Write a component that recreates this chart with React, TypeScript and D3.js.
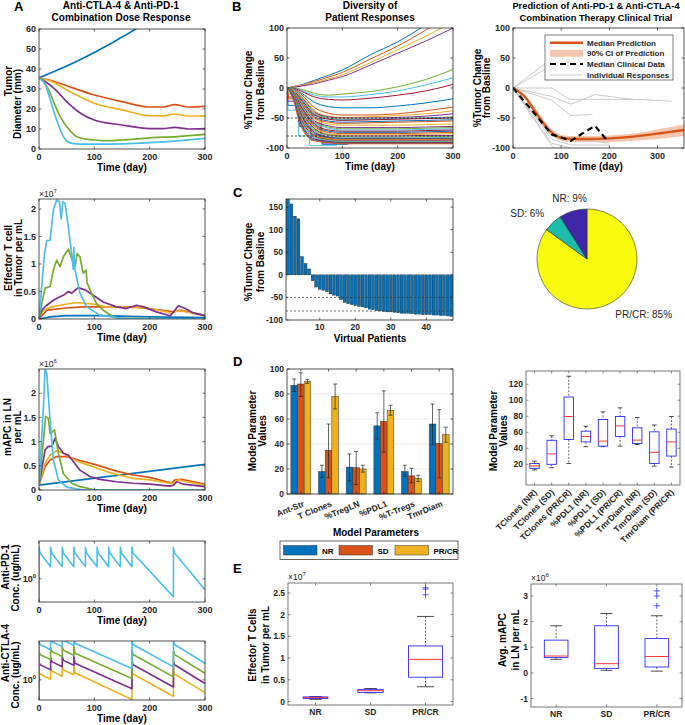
import React from "react";
import * as d3 from "d3";

const FONT = "'Liberation Sans', Arial, Helvetica, sans-serif";
const BLUE = "#0072BD";
const ORANGE = "#D95319";
const YELLOW = "#EDB120";
const PURPLE = "#7E2F8E";
const GREEN = "#77AC30";
const CYAN = "#4DBEEE";
const RED = "#A2142F";
const CYCLE = [BLUE, ORANGE, YELLOW, PURPLE, GREEN, CYAN, RED];
const AXC = "#262626";

// ---------- A: dose response (time, value) ----------
const DIAM_BLUE = [[0, 35.5], [25, 38.5], [50, 41.5], [75, 44.8], [100, 48.3], [125, 52], [150, 56], [175, 60], [200, 64.5]];
const DIAM_ORANGE = [[0, 35.5], [25, 34], [50, 31.6], [100, 27], [150, 23.7], [200, 21], [225, 21], [245, 22.2], [270, 21], [300, 21.3]];
const DIAM_YELLOW = [[0, 35.5], [25, 33.5], [50, 29.6], [75, 26], [100, 22.9], [150, 19.6], [200, 16.7], [225, 16.6], [245, 17.5], [270, 16.5], [300, 16.6]];
const DIAM_PURPLE = [[0, 35.5], [15, 33], [30, 29.6], [50, 23.7], [75, 17.9], [100, 14.5], [150, 12], [200, 10.2], [225, 10.2], [245, 10.8], [270, 10], [300, 10.2]];
const DIAM_GREEN = [[0, 35.5], [10, 33], [20, 27.9], [30, 21.2], [40, 15.4], [50, 11.2], [70, 5.9], [100, 4.5], [120, 4.2], [150, 4.5], [200, 5.6], [250, 6.2], [300, 7.3]];
const DIAM_CYAN = [[0, 35.5], [10, 33], [20, 25], [30, 16], [40, 8.5], [50, 4], [60, 2.8], [75, 2.4], [100, 2.4], [150, 2.6], [200, 3.2], [250, 4.1], [300, 5.3]];

const TEFF_BLUE = [[0, 0], [20, 0.04], [50, 0.06], [110, 0.06], [200, 0.04], [300, 0.025]];
const TEFF_ORANGE = [[0, 0], [14, 0.16], [50, 0.2], [80, 0.22], [170, 0.22], [231, 0.15], [243, 0.13], [255, 0.16], [300, 0.06]];
const TEFF_YELLOW = [[0, 0], [8, 0.16], [20, 0.21], [38, 0.25], [68, 0.3], [98, 0.27], [122, 0.22], [170, 0.21], [195, 0.2], [231, 0.13], [240, 0.09], [243, 0.13], [255, 0.15], [280, 0.1], [300, 0.07]];
const TEFF_PURPLE = [[0, 0], [5, 0.16], [14, 0.25], [26, 0.34], [35, 0.39], [44, 0.43], [53, 0.5], [59, 0.47], [71, 0.57], [83, 0.53], [98, 0.43], [116, 0.31], [140, 0.22], [158, 0.19], [176, 0.25], [189, 0.22], [212, 0.13], [237, 0.06], [243, 0.13], [252, 0.24], [264, 0.19], [279, 0.11], [300, 0.06]];
const TEFF_GREEN = [[0, 0], [5, 0.28], [11, 0.56], [20, 0.59], [26, 0.89], [32, 1.07], [38, 0.95], [44, 1.13], [53, 1.27], [59, 1.1], [65, 0.95], [69, 1.19], [74, 1.13], [80, 0.83], [85, 0.89], [87, 0.65], [95, 0.47], [104, 0.28], [116, 0.16], [134, 0.04], [146, 0.01], [300, 0]];
const TEFF_CYAN = [[0, 0], [5, 0.6], [10, 1.19], [14, 1.42], [20, 1.43], [26, 1.98], [32, 2.16], [37, 2.13], [40, 1.82], [43, 2.13], [47, 2.1], [53, 1.67], [59, 1.19], [62, 0.9], [63, 1.3], [64, 0.95], [74, 0.47], [86, 0.22], [110, 0.07], [150, 0.01], [300, 0]];

const MAPC_BLUE = [[0, 0.1], [300, 0.53]];
const MAPC_ORANGE = [[0, 0.1], [11, 0.48], [20, 0.62], [32, 0.69], [50, 0.69], [74, 0.61], [104, 0.52], [140, 0.39], [170, 0.31], [200, 0.26], [231, 0.17], [240, 0.15], [246, 0.21], [258, 0.22], [279, 0.17], [300, 0.12]];
const MAPC_YELLOW = [[0, 0.1], [11, 0.55], [20, 0.72], [32, 0.81], [44, 0.76], [62, 0.63], [80, 0.55], [98, 0.48], [128, 0.36], [170, 0.24], [200, 0.21], [237, 0.14], [243, 0.14], [252, 0.21], [267, 0.17], [300, 0.1]];
const MAPC_PURPLE = [[0, 0.1], [11, 0.83], [17, 0.9], [23, 0.9], [29, 1.07], [35, 0.9], [44, 0.76], [53, 0.72], [62, 0.59], [74, 0.41], [92, 0.28], [110, 0.22], [140, 0.17], [170, 0.14], [200, 0.12], [237, 0.08], [243, 0.1], [249, 0.17], [261, 0.12], [300, 0.07]];
const MAPC_GREEN = [[0, 0.1], [8, 1.03], [12, 1.52], [17, 1.48], [20, 1.17], [25, 1.21], [28, 1.24], [35, 0.76], [44, 0.34], [59, 0.14], [74, 0.07], [98, 0.01], [120, 0], [300, 0]];
const MAPC_CYAN = [[0, 0.1], [8, 1.72], [11, 2.5], [14, 2.41], [20, 1.45], [26, 0.62], [35, 0.21], [50, 0.06], [80, 0], [300, 0]];

const PD1_CONC = [[0, 0.1], [0, 3.4], [2, 2.7], [21, 1.6], [21, 3.4], [23, 2.7], [42, 1.6], [42, 3.4], [44, 2.7], [63, 1.6], [63, 3.4], [65, 2.7], [84, 1.6], [84, 3.4], [86, 2.7], [105, 1.6], [105, 3.4], [107, 2.7], [126, 1.6], [126, 3.4], [128, 2.7], [147, 1.6], [147, 3.4], [149, 2.7], [168, 1.6], [168, 3.4], [170, 2.7], [243, 0.5], [243, 3.4], [245, 2.7], [300, 0.66]];

const CTLA4_CYAN = [[0, 0.1], [0, 4.4], [2, 3.9], [21, 3.2], [21, 5.0], [23, 4.4], [42, 3.6], [42, 5.3], [44, 4.6], [63, 3.8], [63, 5.4], [65, 4.1], [168, 1.55], [168, 4.5], [170, 3.9], [243, 1.65], [243, 4.5], [245, 3.9], [300, 1.9]];
const CTLA4_GREEN = [[0, 0.1], [0, 3.0], [2, 2.65], [21, 2.18], [21, 3.4], [23, 3.0], [42, 2.45], [42, 3.6], [44, 3.13], [63, 2.58], [63, 3.67], [65, 2.79], [168, 1.05], [168, 3.06], [170, 2.65], [243, 1.12], [243, 3.06], [245, 2.65], [300, 1.29]];
const CTLA4_PURPLE = [[0, 0.1], [0, 2.02], [2, 1.79], [21, 1.47], [21, 2.3], [23, 2.02], [42, 1.66], [42, 2.44], [44, 2.12], [63, 1.75], [63, 2.48], [65, 1.89], [168, 0.71], [168, 2.07], [170, 1.79], [243, 0.76], [243, 2.07], [245, 1.79], [300, 0.87]];
const CTLA4_YELLOW = [[0, 0.1], [0, 1.41], [2, 1.25], [21, 1.02], [21, 1.6], [23, 1.41], [42, 1.15], [42, 1.7], [44, 1.47], [63, 1.22], [63, 1.73], [65, 1.31], [168, 0.47], [168, 1.44], [170, 1.25], [243, 0.53], [243, 1.44], [245, 1.25], [300, 0.61]];

// ---------- B: virtual patients (% change at B_TIMES) ----------
const B_TIMES = [0, 10, 25, 50, 75, 100, 150, 200, 250, 300];
const B_PATIENTS = [
  [0, 2, 5, 13, 21, 30, 55, 77, 105, 140],
  [0, 2, 4, 11, 18, 26, 48, 70, 96, 125],
  [0, 2, 4, 9, 15, 22, 42, 64, 86, 110],
  [0, 1, 3, 7, 13, 19, 38, 58, 78, 100],
  [0, 1, -2, -9, -12, -10, -6, 2, 14, 31],
  [0, 0, -4, -12, -15, -15, -11, -5, 5, 17],
  [0, 0, -5, -15, -19, -20, -17, -12, -5, 6],
  [0, -1, -8, -24, -31, -33, -33, -30, -25, -18],
  [0, -1, -10, -33, -42, -45, -45, -43, -38, -32],
  [0, -2, -12, -38, -47, -49, -48, -46, -43, -38],
  [0, -2, -14, -40, -48, -50, -50, -49, -47, -43],
  [0, -2, -15, -42, -50, -52, -52, -51, -50, -48],
  [0, -2, -16, -44, -51, -53, -52, -51, -50, -49],
  [0, -3, -18, -45, -52, -54, -53, -52, -51, -50],
  [0, -3, -20, -48, -55, -57, -56, -55, -54, -53],
  [0, -3, -22, -50, -57, -59, -58, -57, -56, -55],
  [0, -3, -24, -52, -60, -62, -62, -62, -61, -60],
  [0, -4, -25, -55, -63, -66, -66, -66, -65, -64],
  [0, -4, -27, -57, -65, -68, -68, -68, -67, -66],
  [0, -4, -28, -58, -67, -70, -70, -70, -69, -68],
  [0, -5, -30, -60, -70, -72, -72, -72, -71, -70],
  [0, -5, -32, -62, -72, -74, -74, -74, -73, -72],
  [0, -5, -33, -64, -74, -76, -76, -76, -75, -74],
  [0, -6, -35, -66, -76, -78, -78, -78, -77, -76],
  [0, -6, -36, -68, -78, -80, -80, -80, -79, -79],
  [0, -6, -38, -70, -79, -81, -82, -82, -81, -81],
  [0, -7, -40, -72, -81, -83, -83, -83, -83, -82],
  [0, -7, -42, -74, -82, -84, -84, -84, -84, -84],
  [0, -8, -44, -76, -83, -85, -85, -85, -85, -85],
  [0, -8, -46, -78, -84, -86, -86, -86, -86, -86],
  [0, -9, -48, -79, -85, -87, -87, -87, -87, -87],
  [0, -9, -50, -80, -86, -88, -88, -88, -88, -88],
  [0, -10, -52, -82, -87, -89, -89, -89, -89, -89],
  [0, -10, -54, -83, -88, -90, -90, -90, -90, -90],
  [0, -12, -57, -85, -89, -91, -91, -91, -91, -91],
  [0, -14, -60, -87, -90, -92, -92, -92, -92, -92],
  [0, -16, -64, -88, -91, -93, -93, -93, -93, -93],
];
const B_STEPS = [
  [[0, 0], [2, -37], [20, -37], [21, -80], [40, -80], [41, -96], [90, -96]],
  [[0, 0], [2, -29], [21, -29], [22, -64], [42, -64], [43, -87], [63, -87], [64, -94], [110, -94]],
  [[0, 0], [2, -22], [20, -22], [21, -55], [43, -55], [44, -78], [62, -78], [63, -92], [80, -92]],
  [[0, 0], [3, -15], [21, -15], [22, -45], [62, -45], [63, -84], [80, -84], [81, -92], [300, -92]],
  [[0, 0], [3, -10], [22, -10], [23, -40], [44, -40], [45, -70], [62, -70], [63, -90], [82, -90]],
  [[0, 0], [3, -18], [22, -18], [23, -58], [60, -58], [61, -88], [85, -88]],
];
const STEP_COLORS = [CYAN, BLUE, PURPLE, RED, GREEN, ORANGE];

// ---------- B right: trial prediction ----------
const PRED_T = [0, 25, 50, 75, 100, 125, 150, 200, 250, 300, 355];
const PRED_MED = [0, -15, -44, -70, -83, -85, -85, -84, -81, -76, -70];
const PRED_LO = [0, -18, -50, -76, -88, -90, -90, -90, -88, -85, -80];
const PRED_HI = [0, -12, -38, -64, -78, -80, -80, -79, -76, -69, -61];
const CLIN_MEDIAN = [[0, 0], [40, -38], [80, -77], [120, -88], [170, -63], [198, -90]];
const INDIVIDUAL = [
  [[0, 0], [82, 50]],
  [[0, 0], [82, 38]],
  [[0, 0], [80, 0], [118, -19], [256, -19], [330, -22]],
  [[0, 0], [80, -14], [120, -27], [170, -11], [250, -19]],
  [[0, 0], [80, -20], [120, -46], [165, -44]],
  [[0, 0], [80, -85], [120, -95], [200, -95]],
  [[0, 0], [80, -92], [120, -100]],
  [[0, 0], [80, -80], [200, -92]],
  [[0, 0], [82, -98], [95, -105]],
];

// ---------- C: waterfall ----------
const WATERFALL = [175, 157, 130, 124, 40, 25, 13, -13, -27, -32, -34, -37, -42, -45, -47, -55, -61, -64, -66, -68, -70, -71, -73, -76, -77, -79, -80, -81, -82, -82, -83, -84, -85, -85, -85, -86, -87, -87, -88, -88, -88, -89, -89, -90, -90, -91, -92];

// ---------- pie ----------
const PIE_LABELS = ["PR/CR: 85%", "SD: 6%", "NR: 9%"];
const PIE_VALUES = [85, 6, 9];
const PIE_COLORS = ["#F9FB0E", "#1CBCAD", "#3E26A8"];

// ---------- D: parameters ----------
const PARAMS = ["Ant-Str", "T Clones", "%TregLN", "%PDL1", "%T-Tregs", "TmrDiam"];
const GROUPS = ["NR", "SD", "PR/CR"];
const GROUP_COLORS = [BLUE, ORANGE, YELLOW];
const NR_MEAN = [87, 18, 21.5, 54.5, 18, 56];
const NR_LO = [82, 13, 10.5, 44, 14, 39.5];
const NR_HI = [92, 23, 32, 65, 23, 72];
const SD_MEAN = [88, 35, 21, 58, 14.5, 40.5];
const SD_LO = [78, 13, 7.5, 33.5, 9, 13];
const SD_HI = [97, 56, 34, 82.5, 20.5, 67.5];
const PR_MEAN = [90, 78, 20, 67, 12.5, 47.5];
const PR_LO = [88.5, 68, 17.5, 63, 10, 41.5];
const PR_HI = [91.5, 88, 23, 71, 15, 53.5];

const BOX_LABELS = ["TClones (NR)", "TClones (SD)", "TClones (PR/CR)", "%PDL1 (NR)", "%PDL1 (SD)", "%PDL1 (PR/CR)", "TmrDiam (NR)", "TmrDiam (SD)", "TmrDiam (PR/CR)"];
// [lower whisker, q1, median, q3, upper whisker]
const BOX_STATS = [
  [13, 15, 18, 21, 24],
  [15.8, 20, 33, 50, 55.6],
  [21, 51, 79.7, 104, 130],
  [42, 48, 54.8, 61.4, 67.6],
  [42, 42.7, 49, 76, 85.5],
  [42.7, 54.8, 68, 79.7, 90.5],
  [44.8, 46, 50.2, 65.6, 78.4],
  [17.8, 21, 35, 60.6, 69],
  [16.6, 30.3, 48, 64, 79.7],
];

// ---------- E ----------
const E_CATS = ["NR", "SD", "PR/CR"];
const TEFF_BOX = [
  [0.05, 0.07, 0.09, 0.107, 0.115],
  [0.2, 0.21, 0.25, 0.28, 0.3],
  [0.34, 0.56, 0.97, 1.28, 1.96],
];
const TEFF_OUTLIERS = [2.62, 2.59, 2.46];
const MAPC_BOX = [
  [0.53, 0.6, 0.66, 1.28, 1.84],
  [0.1, 0.17, 0.36, 1.84, 2.32],
  [0.07, 0.23, 0.64, 1.34, 2.23],
];
const MAPC_OUTLIERS = [3.2, 3.0, 2.62];

// ================= helpers =================
function Frame({ xs, ys, xTicks = [], yTicks = [], xFmt = (d: any) => String(d), yFmt = (d: any) => String(d), fs = 9, stroke = AXC, showX = true }: any) {
  const [L, R] = xs.range();
  const [B, T] = ys.range();
  const tl = 2.5;
  return (
    <g fontFamily={FONT} fontWeight="bold" fontSize={fs} fill={AXC}>
      {yTicks.map((t: number, i: number) => {
        const y = ys(t);
        return (
          <g key={"y" + i}>
            <line x1={L} x2={L + tl} y1={y} y2={y} stroke={stroke} strokeWidth={0.7} />
            <line x1={R} x2={R - tl} y1={y} y2={y} stroke={stroke} strokeWidth={0.7} />
            <text x={L - 3} y={y + fs * 0.35} textAnchor="end">{yFmt(t)}</text>
          </g>
        );
      })}
      {xTicks.map((t: number, i: number) => {
        const x = xs(t);
        return (
          <g key={"x" + i}>
            <line x1={x} x2={x} y1={B} y2={B - tl} stroke={stroke} strokeWidth={0.7} />
            <line x1={x} x2={x} y1={T} y2={T + tl} stroke={stroke} strokeWidth={0.7} />
            {showX && <text x={x} y={B + fs + 1.5} textAnchor="middle">{xFmt(t)}</text>}
          </g>
        );
      })}
      <rect x={L} y={T} width={R - L} height={B - T} fill="none" stroke={stroke} strokeWidth={0.8} />
    </g>
  );
}

function YLabel({ lines, xs, cys, fs = 10 }: any) {
  return (
    <g fontFamily={FONT} fontWeight="bold" fontSize={fs} fill="#000">
      {lines.map((s: string, i: number) => (
        <text key={i} transform={`translate(${xs[i] + fs * 0.36},${cys[i]}) rotate(-90)`} textAnchor="middle">{s}</text>
      ))}
    </g>
  );
}

function Label({ x, y, text, fs = 10, weight = "bold", anchor = "middle" }: any) {
  return (
    <text x={x} y={y} fontFamily={FONT} fontWeight={weight} fontSize={fs} textAnchor={anchor} fill="#000">{text}</text>
  );
}

function Exponent({ x, y, p }: any) {
  return (
    <text x={x} y={y} fontFamily={FONT} fontSize={8.5} fill={AXC}>
      ×10<tspan dy={-4} fontSize={6}>{p}</tspan>
    </text>
  );
}

function Clip({ id, xs, ys }: any) {
  const [L, R] = xs.range();
  const [B, T] = ys.range();
  return (
    <clipPath id={id}>
      <rect x={L} y={T} width={R - L} height={B - T} />
    </clipPath>
  );
}

const A_X = [39, 205];
const A_COLORS = [BLUE, ORANGE, YELLOW, PURPLE, GREEN, CYAN];

function TimePanel({ id, top, bottom, yMax, yTicks, yFmt, series, colors, smooth, exponent }: any) {
  const xs = d3.scaleLinear().domain([0, 300]).range(A_X);
  const ys = d3.scaleLinear().domain([0, yMax]).range([bottom, top]);
  const line = d3.line<number[]>().x((d) => xs(d[0])).y((d) => ys(d[1])).curve(smooth ? d3.curveMonotoneX : d3.curveLinear);
  return (
    <g>
      <defs><Clip id={id} xs={xs} ys={ys} /></defs>
      <g clipPath={`url(#${id})`}>
        {series.map((s: number[][], i: number) => (
          <path key={i} d={line(s) || ""} fill="none" stroke={colors[i]} strokeWidth={1.7} strokeLinejoin="round" />
        ))}
      </g>
      <Frame xs={xs} ys={ys} xTicks={[0, 100, 200, 300]} yTicks={yTicks} yFmt={yFmt} />
      {exponent && <Exponent x={A_X[0]} y={top - 2} p={exponent} />}
      <Label x={122} y={bottom + 22} text="Time (day)" />
    </g>
  );
}

function LogPanel({ id, top, bottom, domain, series, colors }: any) {
  const xs = d3.scaleLinear().domain([0, 300]).range(A_X);
  const ys = d3.scaleLog().domain(domain).range([bottom, top]);
  const line = d3.line<number[]>().x((d) => xs(d[0])).y((d) => ys(d[1]));
  return (
    <g>
      <defs><Clip id={id} xs={xs} ys={ys} /></defs>
      <g clipPath={`url(#${id})`}>
        {series.map((s: number[][], i: number) => (
          <path key={i} d={line(s) || ""} fill="none" stroke={colors[i]} strokeWidth={1.6} strokeLinejoin="round" />
        ))}
      </g>
      <Frame
        xs={xs}
        ys={ys}
        xTicks={[0, 100, 200, 300]}
        yTicks={[1]}
        yFmt={() => (
          <>
            10<tspan dy={-4} fontSize={6}>0</tspan>
          </>
        )}
      />
      <Label x={122} y={bottom + 22} text="Time (day)" />
    </g>
  );
}

function PanelA() {
  return (
    <g>
      <Label x={14} y={11} text="A" fs={13} anchor="start" />
      <Label x={121} y={9} text="Anti-CTLA-4 & Anti-PD-1" />
      <Label x={121} y={20.5} text="Combination Dose Response" />
      <TimePanel id="a1" top={29} bottom={149} yMax={60} yTicks={[0, 10, 20, 30, 40, 50, 60]} smooth
        series={[DIAM_BLUE, DIAM_ORANGE, DIAM_YELLOW, DIAM_PURPLE, DIAM_GREEN, DIAM_CYAN]} colors={A_COLORS} />
      <YLabel lines={["Tumor", "Diameter (mm)"]} xs={[8, 17.5]} cys={[81, 104]} />

      <TimePanel id="a2" top={199} bottom={319} yMax={2.18} yTicks={[0, 0.5, 1, 1.5, 2]} exponent="7"
        series={[TEFF_BLUE, TEFF_ORANGE, TEFF_YELLOW, TEFF_PURPLE, TEFF_GREEN, TEFF_CYAN]} colors={A_COLORS} />
      <YLabel lines={["Effector T cell", "in Tumor per mL"]} xs={[8.5, 18.5]} cys={[258, 258]} />

      <TimePanel id="a3" top={369} bottom={490} yMax={2.5} yTicks={[0, 0.5, 1, 1.5, 2]} exponent="6"
        series={[MAPC_BLUE, MAPC_ORANGE, MAPC_YELLOW, MAPC_PURPLE, MAPC_GREEN, MAPC_CYAN]} colors={A_COLORS} />
      <YLabel lines={["mAPC in LN", "per mL"]} xs={[7, 17]} cys={[427, 427]} />

      <LogPanel id="a4" top={541} bottom={602} domain={[0.41, 4.3]} series={[PD1_CONC]} colors={[CYAN]} />
      <YLabel lines={["Anti-PD-1", "Conc. (ug/mL)"]} xs={[5.5, 15.5]} cys={[567, 578]} />

      <LogPanel id="a5" top={641} bottom={700} domain={[0.46, 4.47]}
        series={[CTLA4_YELLOW, CTLA4_PURPLE, CTLA4_GREEN, CTLA4_CYAN]} colors={[YELLOW, PURPLE, GREEN, CYAN]} />
      <YLabel lines={["Anti-CTLA-4", "Conc. (ug/mL)"]} xs={[5.5, 15.5]} cys={[653, 675]} />
    </g>
  );
}

function PanelB1() {
  const xs = d3.scaleLinear().domain([0, 300]).range([287, 453]);
  const ys = d3.scaleLinear().domain([-100, 100]).range([148, 28]);
  const smooth = d3.line<number[]>().x((d) => xs(d[0])).y((d) => ys(d[1])).curve(d3.curveMonotoneX);
  const step = d3.line<number[]>().x((d) => xs(d[0])).y((d) => ys(d[1]));
  const [L, R] = xs.range();
  return (
    <g>
      <Label x={232} y={11} text="B" fs={13} anchor="start" />
      <Label x={370} y={9} text="Diversity of" />
      <Label x={370} y={20.5} text="Patient Responses" />
      <defs><Clip id="b1" xs={xs} ys={ys} /></defs>
      <g clipPath="url(#b1)">
        {B_STEPS.map((s, i) => (
          <path key={"s" + i} d={step(s) || ""} fill="none" stroke={STEP_COLORS[i]} strokeWidth={0.9} />
        ))}
        {B_PATIENTS.map((vals, i) => (
          <path key={i} d={smooth(vals.map((v, j) => [B_TIMES[j], v])) || ""} fill="none" stroke={CYCLE[i % 7]} strokeWidth={1} />
        ))}
        {[-50, -80].map((v) => (
          <line key={v} x1={L} x2={R} y1={ys(v)} y2={ys(v)} stroke="#000" strokeWidth={0.7} strokeDasharray="2,2" />
        ))}
      </g>
      <Frame xs={xs} ys={ys} xTicks={[0, 100, 200, 300]} yTicks={[-100, -50, 0, 50, 100]} />
      <YLabel lines={["%Tumor Change", "from Basline"]} xs={[248.5, 260]} cys={[90, 90]} />
      <Label x={370} y={170} text="Time (day)" />
    </g>
  );
}

function PanelB2() {
  const xs = d3.scaleLinear().domain([0, 355]).range([513, 684]);
  const ys = d3.scaleLinear().domain([-100, 100]).range([148, 28]);
  const line = d3.line<number[]>().x((d) => xs(d[0])).y((d) => ys(d[1]));
  const medLine = d3.line<number>().x((_, i) => xs(PRED_T[i])).y((d) => ys(d)).curve(d3.curveMonotoneX);
  const band = d3.area<number>().x((_, i) => xs(PRED_T[i])).y0((_, i) => ys(PRED_LO[i])).y1((_, i) => ys(PRED_HI[i])).curve(d3.curveMonotoneX);
  const lx = 550;
  const legendRows = [42.7, 53.3, 64, 75];
  return (
    <g>
      <Label x={596} y={9} fs={9.3} text="Prediction of Anti-PD-1 & Anti-CTLA-4" />
      <Label x={596} y={20.5} fs={9.3} text="Combination Therapy Clinical Trial" />
      <defs><Clip id="b2" xs={xs} ys={ys} /></defs>
      <g clipPath="url(#b2)">
        <path d={band(PRED_MED) || ""} fill="#F4C6AE" />
        {INDIVIDUAL.map((s, i) => (
          <path key={i} d={line(s) || ""} fill="none" stroke="#BDBDBD" strokeWidth={0.8} />
        ))}
        <path d={medLine(PRED_MED) || ""} fill="none" stroke={ORANGE} strokeWidth={2.4} />
        <path d={line(CLIN_MEDIAN) || ""} fill="none" stroke="#000" strokeWidth={2.2} strokeDasharray="6,4" />
      </g>
      <Frame xs={xs} ys={ys} xTicks={[0, 100, 200, 300]} yTicks={[-100, -50, 0, 50, 100]} />
      <g>
        <rect x={545} y={35} width={128} height={45} fill="#fff" stroke="#262626" strokeWidth={0.6} />
        <line x1={lx} x2={lx + 33} y1={legendRows[0]} y2={legendRows[0]} stroke={ORANGE} strokeWidth={2.4} />
        <rect x={lx} y={legendRows[1] - 3.5} width={33} height={7} fill="#F4C6AE" />
        <line x1={lx} x2={lx + 33} y1={legendRows[2]} y2={legendRows[2]} stroke="#000" strokeWidth={2.2} strokeDasharray="6,4" />
        <line x1={lx} x2={lx + 33} y1={legendRows[3]} y2={legendRows[3]} stroke="#BDBDBD" strokeWidth={0.8} />
        {["Median Prediction", "90% CI of Prediction", "Median Clinical Data", "Individual Responses"].map((s, i) => (
          <text key={s} x={587} y={legendRows[i] + 3} fontFamily={FONT} fontWeight="bold" fontSize={8} fill="#262626">{s}</text>
        ))}
      </g>
      <YLabel lines={["%Tumor Change", "from Basline"]} xs={[477, 486.5]} cys={[88, 88]} />
      <Label x={598} y={170} text="Time (day)" />
    </g>
  );
}

function PanelC() {
  const xs = d3.scaleLinear().domain([0.5, 47.5]).range([286, 453]);
  const ys = d3.scaleLinear().domain([-100, 168]).range([320, 199]);
  const bw = (xs(1) - xs(0)) * 0.8;
  const [L, R] = xs.range();
  return (
    <g>
      <Label x={233} y={197} text="C" fs={13} anchor="start" />
      <defs><Clip id="c" xs={xs} ys={ys} /></defs>
      <g clipPath="url(#c)">
        {WATERFALL.map((v, i) => (
          <rect key={i} x={xs(i + 1) - bw / 2} y={ys(Math.max(0, v))} width={bw} height={Math.abs(ys(v) - ys(0))}
            fill={BLUE} stroke="#1a1a1a" strokeWidth={0.4} />
        ))}
        {[-50, -80].map((v) => (
          <line key={v} x1={L} x2={R} y1={ys(v)} y2={ys(v)} stroke="#333" strokeWidth={0.7} strokeDasharray="2,2" />
        ))}
      </g>
      <Frame xs={xs} ys={ys} xTicks={[10, 20, 30, 40]} yTicks={[-100, -50, 0, 50, 100, 150]} fs={8.5} />
      <YLabel lines={["%Tumor Change", "from Basline"]} xs={[248.5, 260]} cys={[262, 262]} />
      <Label x={370} y={342} text="Virtual Patients" />
    </g>
  );
}

function PanelPie() {
  const cx = 587, cy = 259, r = 50;
  const arcs = d3.pie<number>().sort(null)(PIE_VALUES);
  const arc = d3.arc<any>().innerRadius(0).outerRadius(r);
  const lab = d3.arc<any>().innerRadius(r * 1.25).outerRadius(r * 1.25);
  return (
    <g transform={`translate(${cx},${cy})`}>
      {arcs.map((a, i) => (
        <path key={i} d={arc(a) || ""} fill={PIE_COLORS[i]} stroke="#333" strokeWidth={0.6} />
      ))}
      {arcs.map((a, i) => {
        const [x, y] = lab.centroid(a);
        const s = Math.sin((a.startAngle + a.endAngle) / 2);
        const anchor = Math.abs(s) < 0.35 ? "middle" : s < 0 ? "end" : "start";
        return (
          <text key={"t" + i} x={x} y={y + 3.5} textAnchor={anchor} fontFamily={FONT} fontSize={10} fill="#262626">{PIE_LABELS[i]}</text>
        );
      })}
    </g>
  );
}

function PanelDBars() {
  const xs = d3.scaleLinear().domain([0.5, 6.5]).range([287, 453]);
  const ys = d3.scaleLinear().domain([0, 100]).range([494, 369]);
  const unit = xs(1) - xs(0);
  const bw = unit * 0.24;
  const means = [NR_MEAN, SD_MEAN, PR_MEAN];
  const los = [NR_LO, SD_LO, PR_LO];
  const his = [NR_HI, SD_HI, PR_HI];
  const [L, R] = xs.range();
  return (
    <g>
      <Label x={233} y={366} text="D" fs={13} anchor="start" />
      {[20, 40, 60, 80].map((v) => (
        <line key={v} x1={L} x2={R} y1={ys(v)} y2={ys(v)} stroke="#E3E3E3" strokeWidth={0.7} />
      ))}
      {PARAMS.map((p, i) =>
        GROUPS.map((g, k) => {
          const cx = xs(i + 1) + (k - 1) * bw;
          const v = means[k][i];
          return (
            <g key={p + g}>
              <rect x={cx - bw / 2} y={ys(v)} width={bw} height={ys(0) - ys(v)} fill={GROUP_COLORS[k]} stroke="#333" strokeWidth={0.5} />
              <line x1={cx} x2={cx} y1={ys(los[k][i])} y2={ys(his[k][i])} stroke="#222" strokeWidth={0.7} />
              <line x1={cx - 2} x2={cx + 2} y1={ys(los[k][i])} y2={ys(los[k][i])} stroke="#222" strokeWidth={0.7} />
              <line x1={cx - 2} x2={cx + 2} y1={ys(his[k][i])} y2={ys(his[k][i])} stroke="#222" strokeWidth={0.7} />
            </g>
          );
        })
      )}
      <Frame xs={xs} ys={ys} xTicks={[1, 2, 3, 4, 5, 6]} showX={false} yTicks={[0, 20, 40, 60, 80, 100]} fs={8.5} />
      {PARAMS.map((p, i) => (
        <text key={p} transform={`translate(${xs(i + 1) + 4},${506}) rotate(-22)`} textAnchor="end" fontFamily={FONT} fontWeight="bold" fontSize={8.5} fill={AXC}>{p}</text>
      ))}
      <YLabel lines={["Model Parameter", "Values"]} xs={[252, 262]} cys={[431, 431]} />
      <Label x={376} y={535.5} text="Model Parameters" />
      <g>
        <rect x={280} y={541} width={178} height={18.5} fill="#fff" stroke="#262626" strokeWidth={0.7} />
        {GROUPS.map((g, k) => {
          const px = [283.5, 339, 395][k];
          return (
            <g key={g}>
              <rect x={px} y={545.5} width={33.5} height={9.5} fill={GROUP_COLORS[k]} stroke="#333" strokeWidth={0.5} />
              <text x={px + 38.5} y={553.5} fontFamily={FONT} fontWeight="bold" fontSize={8} fill="#000">{g}</text>
            </g>
          );
        })}
      </g>
    </g>
  );
}

function Boxes({ xs, ys, stats, widths, outliers }: any) {
  const unit = xs(1) - xs(0);
  return (
    <g>
      {stats.map(([lo, q1, med, q3, hi]: number[], i: number) => {
        const cx = xs(i + 1);
        const bw = unit * widths[i];
        return (
          <g key={i}>
            <line x1={cx} x2={cx} y1={ys(hi)} y2={ys(q3)} stroke="#000" strokeWidth={0.6} strokeDasharray="2,1.5" />
            <line x1={cx} x2={cx} y1={ys(q1)} y2={ys(lo)} stroke="#000" strokeWidth={0.6} strokeDasharray="2,1.5" />
            <line x1={cx - bw / 4} x2={cx + bw / 4} y1={ys(hi)} y2={ys(hi)} stroke="#000" strokeWidth={0.7} />
            <line x1={cx - bw / 4} x2={cx + bw / 4} y1={ys(lo)} y2={ys(lo)} stroke="#000" strokeWidth={0.7} />
            <rect x={cx - bw / 2} y={ys(q3)} width={bw} height={ys(q1) - ys(q3)} fill="none" stroke="#2B2BFF" strokeWidth={0.9} />
            <line x1={cx - bw / 2} x2={cx + bw / 2} y1={ys(med)} y2={ys(med)} stroke="#FF2020" strokeWidth={0.9} />
          </g>
        );
      })}
      {outliers &&
        outliers.map((v: number, j: number) => {
          const cx = xs(stats.length);
          const y = ys(v);
          return (
            <g key={"o" + j} stroke="#2B2BFF" strokeWidth={0.8}>
              <line x1={cx - 3} x2={cx + 3} y1={y} y2={y} />
              <line x1={cx} x2={cx} y1={y - 3} y2={y + 3} />
            </g>
          );
        })}
    </g>
  );
}

function PanelDBox() {
  const xs = d3.scaleLinear().domain([0.5, 9.5]).range([526, 680]);
  const ys = d3.scaleLinear().domain([-5.8, 136.5]).range([485, 371]);
  return (
    <g>
      <Boxes xs={xs} ys={ys} stats={BOX_STATS} widths={BOX_STATS.map(() => 0.55)} />
      <Frame xs={xs} ys={ys} xTicks={[1, 2, 3, 4, 5, 6, 7, 8, 9]} showX={false} yTicks={[20, 40, 60, 80, 100, 120]} fs={8.5} stroke="#555" />
      {BOX_LABELS.map((p, i) => (
        <text key={p} transform={`translate(${xs(i + 1) + 3},${493}) rotate(-45)`} textAnchor="end" fontFamily={FONT} fontWeight="bold" fontSize={8.5} fill={AXC}>{p}</text>
      ))}
      <YLabel lines={["Model Parameter", "Values"]} xs={[493.5, 503.5]} cys={[431, 431]} />
    </g>
  );
}

function PanelE() {
  const xs1 = d3.scaleLinear().domain([0.5, 3.5]).range([288, 453]);
  const ys1 = d3.scaleLinear().domain([-0.08, 2.73]).range([705, 583]);
  const xs2 = d3.scaleLinear().domain([0.5, 3.5]).range([531, 682]);
  const ys2 = d3.scaleLinear().domain([-1.33, 3.47]).range([707, 584]);
  return (
    <g>
      <Label x={233} y={573} text="E" fs={13} anchor="start" />
      <Boxes xs={xs1} ys={ys1} stats={TEFF_BOX} widths={[0.45, 0.46, 0.62]} outliers={TEFF_OUTLIERS} />
      <Frame xs={xs1} ys={ys1} xTicks={[1, 2, 3]} xFmt={(d: number) => E_CATS[d - 1]} yTicks={[0, 0.5, 1, 1.5, 2, 2.5]} fs={8.5} stroke="#555" />
      <Exponent x={288} y={580} p="7" />
      <YLabel lines={["Effector T Cells", "in Tumor per mL"]} xs={[252, 265]} cys={[645, 645]} />

      <Boxes xs={xs2} ys={ys2} stats={MAPC_BOX} widths={[0.47, 0.47, 0.47]} outliers={MAPC_OUTLIERS} />
      <Frame xs={xs2} ys={ys2} xTicks={[1, 2, 3]} xFmt={(d: number) => E_CATS[d - 1]} yTicks={[-1, 0, 1, 2, 3]} fs={8.5} stroke="#555" />
      <Exponent x={531} y={581} p="6" />
      <YLabel lines={["Avg. mAPC", "in LN per mL"]} xs={[502, 515]} cys={[640, 640]} />
    </g>
  );
}

export default function App() {
  return (
    <svg width={685} height={725} viewBox="0 0 685 725" style={{ position: "absolute", left: 0, top: 0, background: "#fff" }}>
      <rect width={685} height={725} fill="#fff" />
      <PanelA />
      <PanelB1 />
      <PanelB2 />
      <PanelC />
      <PanelPie />
      <PanelDBars />
      <PanelDBox />
      <PanelE />
    </svg>
  );
}
